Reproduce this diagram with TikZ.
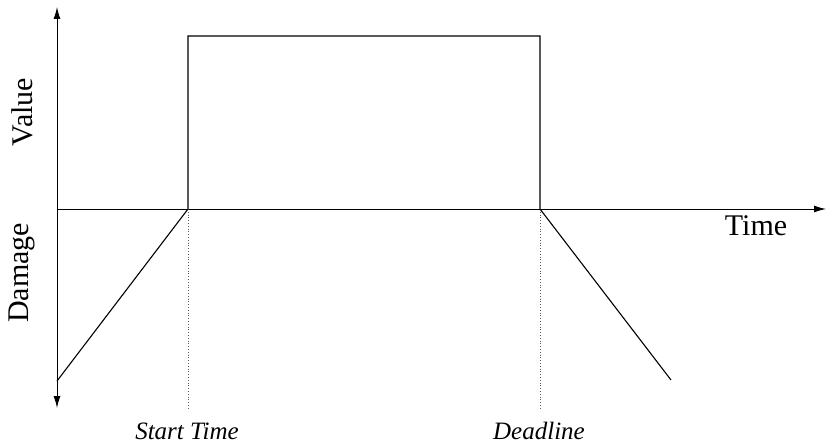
\documentclass[tikz,border=0pt]{standalone}
\usepackage{fontspec}
\setmainfont{Liberation Serif}
\usetikzlibrary{arrows.meta}
\begin{document}
\begin{tikzpicture}[x=1pt,y=1pt,
  curve/.style={line width=1.1pt,line join=miter},
  axis/.style={line width=1pt,-{Latex[length=12pt,width=7pt]}},
  guide/.style={line width=0.8pt,dotted,gray!70!black},
  axlabel/.style={font=\fontsize{30}{33}\selectfont,inner sep=0pt},
  ticklabel/.style={font=\fontsize{25}{28}\selectfont\itshape,inner sep=0pt}]
  \useasboundingbox (0,0) rectangle (826,445);
  % reference points
  \coordinate (o) at (57,236);
  \coordinate (vtop) at (57,438);
  \coordinate (vbot) at (57,37);
  \coordinate (tend) at (826,236);
  \coordinate (st) at (188,236);
  \coordinate (dl) at (540,236);
  \coordinate (sttop) at (188,409);
  \coordinate (dltop) at (540,409);
  \coordinate (stlow) at (188,35);
  \coordinate (dllow) at (540,35);
  \coordinate (dmgstart) at (57,64);
  \coordinate (dmgend) at (671,65);
  % axes
  \draw[axis] (o) -- (vtop);
  \draw[axis] (o) -- (vbot);
  \draw[axis] (o) -- (tend);
  % guides below the time axis
  \draw[guide] (st) -- (stlow);
  \draw[guide] (dl) -- (dllow);
  % value / damage curve
  \draw[curve] (dmgstart) -- (st) -- (sttop) -- (dltop) -- (dl) -- (dmgend);
  % labels
  \node[axlabel,rotate=90] (value) at (22,333) {Value};
  \node[axlabel,rotate=90] (damage) at (22,172) {Damage};
  \node[axlabel] (time) at (756,219) {Time};
  \node[ticklabel] (stlabel) at (187,14) {Start Time};
  \node[ticklabel] (dllabel) at (539,14) {Deadline};
\end{tikzpicture}
\end{document}
